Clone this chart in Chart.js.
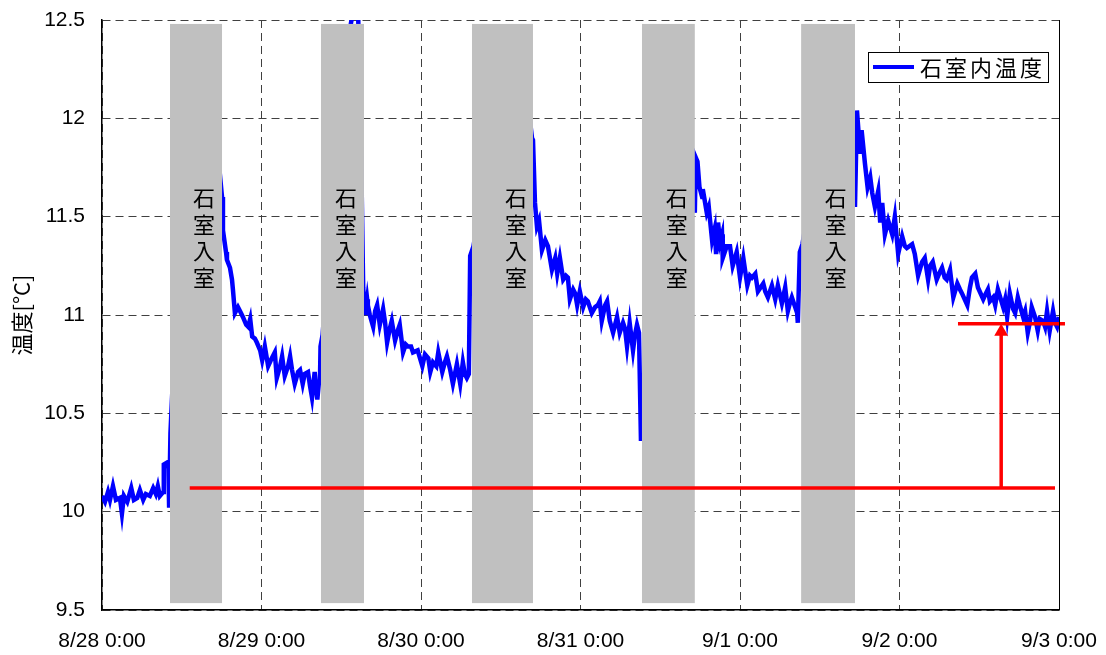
<!DOCTYPE html>
<html>
<head>
<meta charset="utf-8">
<script src="https://cdn.jsdelivr.net/npm/chart.js@4"></script>
<style>
  body { margin: 0; background: #fff; }
</style>
</head>
<body>
<canvas id="myChart" width="1106" height="655"></canvas>
<script>
// axis labels
const dayLabels = ['8/28 0:00', '8/29 0:00', '8/30 0:00', '8/31 0:00', '9/1 0:00', '9/2 0:00', '9/3 0:00'];

// temperature log: hours since 8/28 0:00 and 石室内温度 [°C]
const hours = [
  0, 0.45, 0.9, 1.2, 1.65, 2.1, 2.7, 3.0, 3.3, 3.8, 4.4, 4.8, 5.3, 5.7, 6.2, 6.6, 7.2, 7.7, 8.1, 8.4, 8.7, 9.2, 9.3, 9.8, 10.0, 10.1, 10.3,
  11.5, 14, 17.5, 18.0,
  18.06, 18.2, 18.66, 18.8, 19.26, 19.56, 19.7, 20.0, 20.46, 20.76, 21.2, 21.7, 22.0, 22.3, 22.6, 23.0, 23.3, 23.8, 24.1, 24.5,
  25.0, 25.4, 26.0, 26.3, 26.8, 27.1, 27.5, 28.0, 28.3, 28.6, 29.0, 29.5, 29.8, 30.2, 30.5, 31.0, 31.3, 31.6, 32.0, 32.4, 32.65, 32.8, 32.88,
  33.2, 36, 37.8, 38.5, 39.0, 39.3,
  39.42, 39.6, 39.9, 40.0, 40.3, 40.8, 41.1, 41.4, 41.8, 42.3, 42.6, 42.9, 43.3, 43.6, 44.1, 44.5, 44.8, 45.3, 45.7, 46.0, 46.5, 46.8,
  47.5, 48.2, 48.6, 49.1, 49.4, 49.8, 50.3, 50.6, 51.2, 51.6, 51.9, 52.4, 52.8, 53.4, 53.9, 54.3, 54.6, 54.9, 55.2, 55.4,
  55.9, 60, 64, 64.7,
  64.85, 65.15, 65.45, 65.76, 66.2, 66.7, 67.1, 67.7, 68.2, 68.5, 68.9, 69.4, 69.8, 70.1, 70.4, 70.9, 71.2, 71.5, 71.9, 72.4, 72.8,
  73.1, 73.7, 74.2, 74.6, 74.9, 75.2, 75.7, 76.0, 76.4, 76.9, 77.5, 77.9, 78.4, 78.7, 79.0, 79.4, 79.9, 80.2, 80.5, 80.8, 81.1,
  81.5, 85, 89,
  89.2, 89.35, 89.6, 89.9, 90.3, 90.4, 90.7, 91.0, 91.3, 91.5, 91.8, 92.2, 92.4, 92.7, 93.0, 93.3, 93.4, 94.0, 94.5, 94.9, 95.5,
  96.0, 96.5, 97.1, 97.5, 97.8, 98.3, 98.7, 99.5, 99.8, 100.2, 100.8, 101.3, 101.7, 102.3, 102.8, 103.2, 103.5, 103.8, 104.3, 104.6, 104.7, 105.0,
  105.4, 109, 113,
  113.3, 113.6, 113.9, 114.0, 114.3, 114.8, 115.2, 115.6, 115.9, 116.3, 116.8, 117.1, 117.4, 117.8, 118.3, 118.9, 119.3, 119.8, 120.4,
  120.8, 121.1, 121.9, 122.3, 122.8, 123.4, 123.8, 124.3, 124.6, 125.0, 125.6, 126.1, 126.4, 126.8, 127.1, 127.6, 128.1, 128.7, 129.1,
  129.4, 130.2, 130.6, 130.9, 131.4, 131.8, 132.6, 133.0, 133.3, 133.6, 134.1, 134.4, 134.8, 135.6, 135.9, 136.2, 136.6, 137.1, 137.4,
  137.8, 138.1, 138.6, 138.9, 139.3, 139.6, 139.9, 140.4, 140.8, 141.1, 141.6, 141.9, 142.2, 142.6, 143.1, 143.4, 143.7, 144.0
];
const temps = [
  10.08, 10.05, 10.10, 10.06, 10.13, 10.06, 10.07, 9.99, 10.08, 10.05, 10.12, 10.06, 10.07, 10.11, 10.06, 10.09, 10.08, 10.12, 10.09, 10.13, 10.08, 10.10, 10.24, 10.25, 10.22, 10.02, 10.4,
  11.3, 11.9, 11.8, 11.62,
  11.60, 11.43, 11.32, 11.28, 11.24, 11.18, 11.13, 11.01, 11.04, 11.02, 10.99, 10.95, 10.94, 10.98, 10.89, 10.88, 10.86, 10.82, 10.77, 10.84,
  10.74, 10.77, 10.81, 10.68, 10.74, 10.79, 10.69, 10.74, 10.79, 10.72, 10.65, 10.71, 10.72, 10.65, 10.70, 10.71, 10.64, 10.58, 10.71, 10.57, 10.66, 10.67, 10.84,
  10.9, 12.2, 12.55, 12.6, 11.8, 11.14,
  11.14, 11.00, 11.08, 11.05, 11.00, 10.94, 11.02, 11.05, 10.95, 11.03, 10.96, 10.86, 10.93, 10.97, 10.87, 10.92, 10.95, 10.81, 10.85, 10.84, 10.84, 10.81,
  10.82, 10.74, 10.80, 10.78, 10.71, 10.76, 10.74, 10.81, 10.71, 10.76, 10.79, 10.72, 10.65, 10.75, 10.65, 10.76, 10.70, 10.68, 10.70, 11.30,
  11.35, 12.2, 12.1, 11.9,
  11.89, 11.57, 11.45, 11.48, 11.33, 11.38, 11.35, 11.23, 11.29, 11.21, 11.29, 11.18, 11.20, 11.19, 11.08, 11.13, 11.11, 11.05, 11.12, 11.04, 11.08,
  11.07, 11.01, 11.04, 11.05, 11.07, 10.97, 11.05, 11.07, 10.97, 10.91, 10.99, 10.91, 10.96, 10.93, 10.84, 10.96, 10.82, 10.90, 10.95, 10.91, 10.36,
  10.6, 11.9, 11.6,
  11.52, 11.80, 11.78, 11.65, 11.60, 11.64, 11.58, 11.52, 11.55, 11.48, 11.38, 11.44, 11.31, 11.47, 11.37, 11.41, 11.29, 11.35, 11.35, 11.25, 11.32,
  11.19, 11.29, 11.15, 11.20, 11.19, 11.21, 11.12, 11.16, 11.12, 11.09, 11.15, 11.08, 11.15, 11.06, 11.14, 11.02, 11.06, 11.09, 11.04, 11.01, 10.96, 11.32,
  11.36, 12.1, 11.9,
  11.55, 12.04, 11.90, 11.82, 11.94, 11.77, 11.65, 11.70, 11.62, 11.55, 11.63, 11.47, 11.57, 11.41, 11.48, 11.41, 11.50, 11.31, 11.40,
  11.35, 11.34, 11.36, 11.31, 11.20, 11.27, 11.29, 11.18, 11.25, 11.27, 11.18, 11.22, 11.24, 11.19, 11.18, 11.23, 11.09, 11.16, 11.13,
  11.11, 11.05, 11.14, 11.19, 11.21, 11.14, 11.08, 11.11, 11.13, 11.07, 11.09, 11.05, 11.13, 11.04, 11.08, 10.99, 11.11, 11.03, 11.01,
  11.09, 11.05, 10.99, 11.02, 10.91, 10.96, 11.04, 10.99, 10.92, 10.98, 10.97, 10.94, 11.02, 10.92, 11.02, 10.96, 10.94, 10.99
];

// 石室入室 periods (hours)
const entryStart = [10.23, 32.95, 55.67, 81.25, 105.2];
const entryEnd = [18.06, 39.42, 64.85, 89.2, 113.3];
const entryLabelAt = [15.35, 36.7, 62.3, 86.5, 110.4];
const entryRange = [9.535, 12.48];

// red reference lines: before level and final level
const baseLevel = [[13.2, 10.12], [143.4, 10.12]];
const finalLevel = [[128.8, 10.955], [144.9, 10.955]];
const arrowLine = [[135.3, 10.12], [135.3, 10.915]];

const toPts = arr => arr.map(p => ({x: p[0], y: p[1]}));

// gray bands drawn over the blue line, legend box, right frame
const overlay = {
  id: 'overlay',
  afterDatasetDraw(chart, args) {
    if (args.index !== 0) return;
    const {ctx, chartArea, scales: {x, y}} = chart;
    ctx.save();
    ctx.fillStyle = '#c0c0c0';
    const top = y.getPixelForValue(entryRange[1]);
    const bottom = y.getPixelForValue(entryRange[0]);
    for (let i = 0; i < entryStart.length; i++) {
      const l = x.getPixelForValue(entryStart[i]);
      const r = x.getPixelForValue(entryEnd[i]);
      ctx.fillRect(l, top, r - l, bottom - top);
    }
    ctx.fillStyle = '#000';
    ctx.font = '22px "Noto Sans CJK JP"';
    ctx.textAlign = 'center';
    ctx.textBaseline = 'middle';
    entryLabelAt.forEach(h => {
      const cx = x.getPixelForValue(h);
      [...'石室入室'].forEach((ch, k) => {
        ctx.fillText(ch, cx, chartArea.top + 178 + k * 26.5);
      });
    });
    ctx.restore();
  },
  afterDraw(chart) {
    const {ctx, chartArea} = chart;
    ctx.save();
    // right frame
    ctx.strokeStyle = '#000';
    ctx.lineWidth = 1;
    ctx.beginPath();
    ctx.moveTo(chartArea.right + 0.5, chartArea.top);
    ctx.lineTo(chartArea.right + 0.5, chartArea.bottom);
    ctx.stroke();
    // legend
    const bx = chartArea.right - 191, by = chartArea.top + 32;
    ctx.fillStyle = '#fff';
    ctx.fillRect(bx, by, 180, 30);
    ctx.strokeRect(bx + 0.5, by + 0.5, 180, 30);
    const ds = chart.data.datasets[0];
    ctx.strokeStyle = ds.borderColor;
    ctx.lineWidth = 4;
    ctx.beginPath();
    ctx.moveTo(bx + 5, by + 15);
    ctx.lineTo(bx + 46, by + 15);
    ctx.stroke();
    ctx.fillStyle = '#000';
    ctx.font = '22px "Noto Sans CJK JP"';
    ctx.textAlign = 'left';
    ctx.textBaseline = 'middle';
    [...ds.label].forEach((ch, k) => ctx.fillText(ch, bx + 52 + k * 25, by + 16));
    ctx.restore();
  }
};

const tickFont = {family: '"Liberation Sans", Arial, sans-serif', size: 21};

function noPad(scale) {
  scale.paddingLeft = 0;
  scale.paddingRight = 0;
  scale.paddingTop = 0;
  scale.paddingBottom = 0;
}

const myChart = new Chart(document.getElementById('myChart'), {
  type: 'line',
  data: {
    datasets: [
      {
        label: '石室内温度',
        data: hours.map((h, i) => ({x: h, y: temps[i]})),
        borderColor: '#0000ff',
        borderWidth: 4.5,
        pointRadius: 0,
        tension: 0,
        order: 2
      },
      {
        label: 'base',
        data: toPts(baseLevel),
        borderColor: '#ff0000',
        borderWidth: 3.5,
        pointRadius: 0,
        order: 1
      },
      {
        label: 'final',
        data: toPts(finalLevel),
        borderColor: '#ff0000',
        borderWidth: 3.5,
        pointRadius: 0,
        clip: false,
        order: 1
      },
      {
        label: 'arrow',
        data: toPts(arrowLine),
        borderColor: '#ff0000',
        borderWidth: 3.5,
        pointRadius: [0, 8],
        pointStyle: 'triangle',
        pointBackgroundColor: '#ff0000',
        pointBorderWidth: 0,
        clip: false,
        order: 1
      }
    ]
  },
  options: {
    responsive: false,
    animation: false,
    devicePixelRatio: 1,
    layout: {padding: {left: 0, right: 47, top: 20, bottom: 0}},
    plugins: {
      legend: {display: false},
      tooltip: {enabled: false}
    },
    scales: {
      x: {
        type: 'linear',
        min: 0,
        max: 144,
        afterFit(scale) { scale.height = 45; noPad(scale); },
        afterBuildTicks(scale) {
          scale.ticks = dayLabels.map((_, i) => ({value: i * 24}));
        },
        ticks: {
          autoSkip: false,
          maxRotation: 0,
          padding: 19,
          color: '#000',
          font: tickFont,
          callback: v => dayLabels[v / 24]
        },
        grid: {color: '#404040', lineWidth: 1, drawTicks: false},
        border: {color: '#000', width: 1.5, dash: [8, 5]}
      },
      y: {
        min: 9.5,
        max: 12.5,
        afterFit(scale) { scale.width = 102; noPad(scale); },
        ticks: {
          stepSize: 0.5,
          padding: 17,
          color: '#000',
          font: tickFont,
          callback: v => String(v)
        },
        grid: {color: '#404040', lineWidth: 1, drawTicks: false},
        border: {color: '#000', width: 1.5, dash: [8, 5]},
        title: {
          display: true,
          text: '温度[°C]',
          color: '#000',
          font: {family: '"Noto Sans CJK JP"', size: 22},
          padding: {top: 8, bottom: 0}
        }
      }
    }
  },
  plugins: [overlay]
});
</script>
</body>
</html>
